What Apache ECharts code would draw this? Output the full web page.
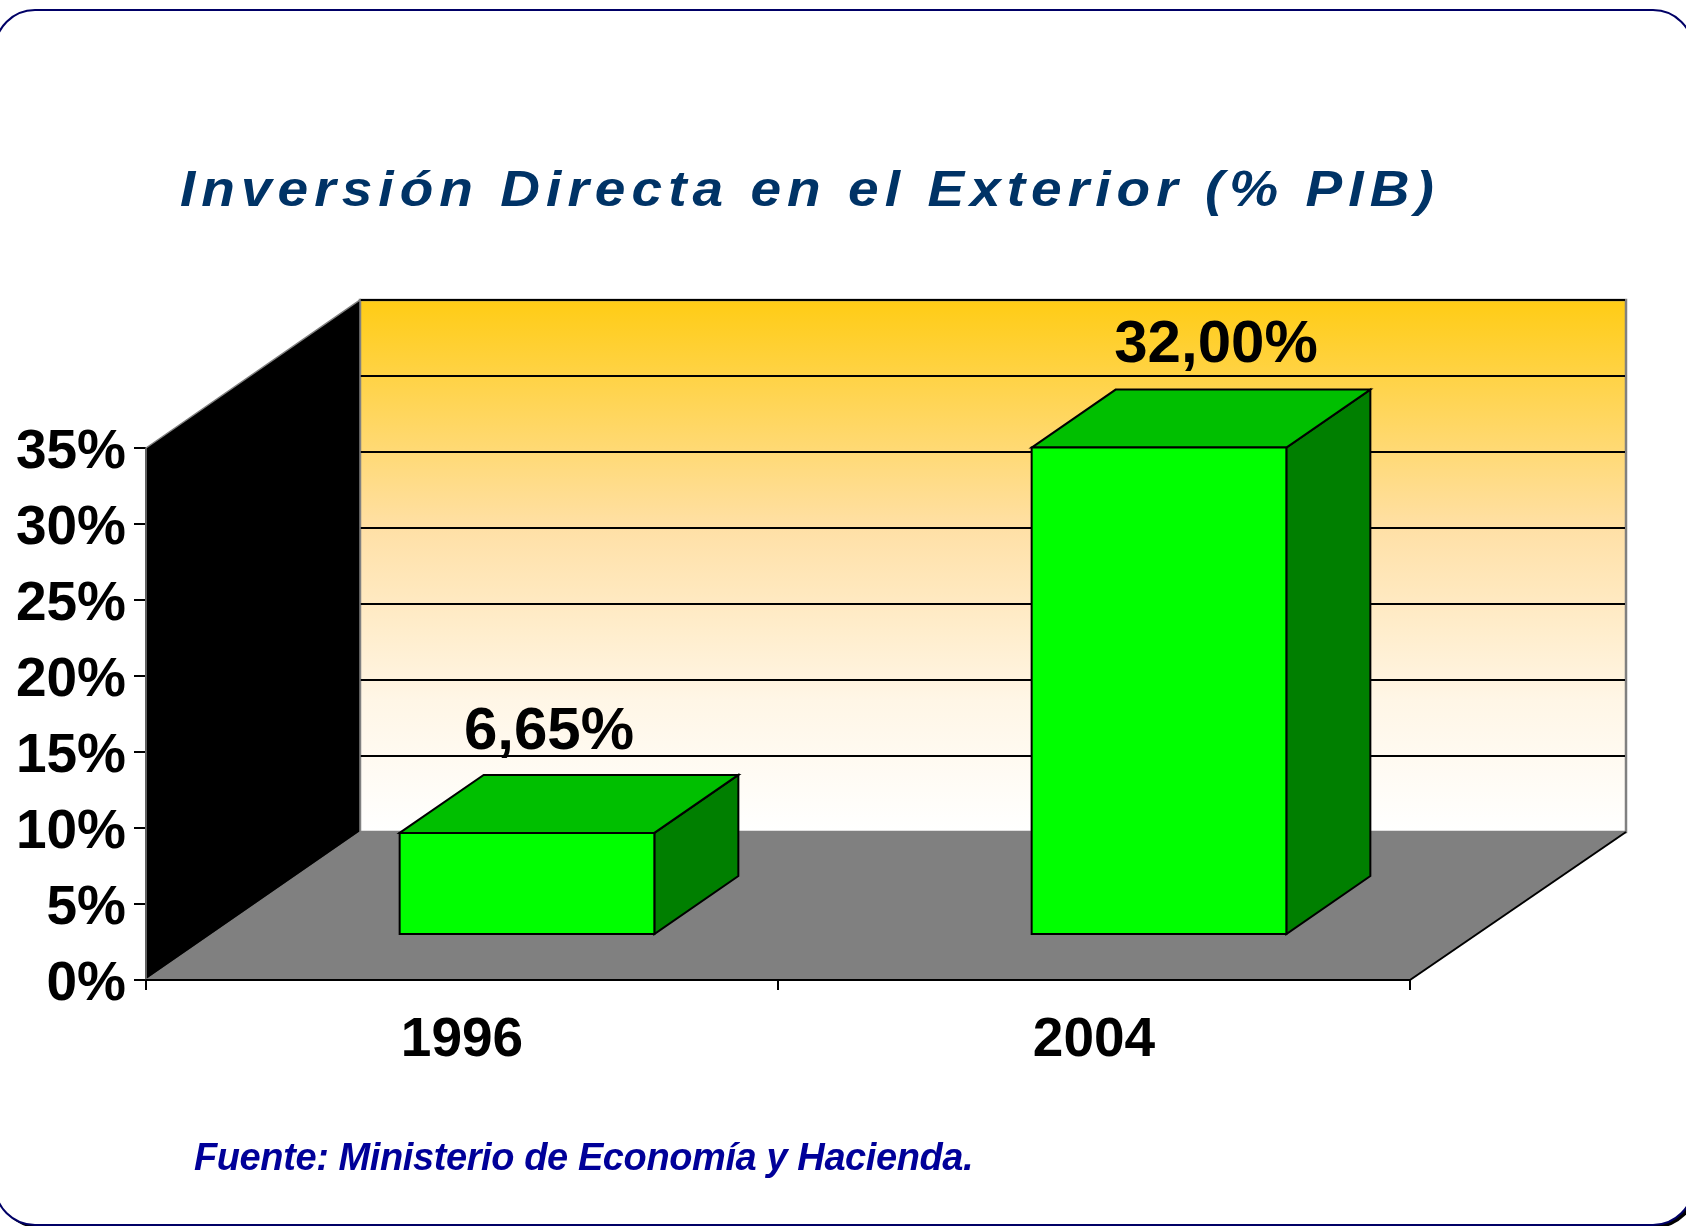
<!DOCTYPE html>
<html>
<head>
<meta charset="utf-8">
<title>Inversión Directa en el Exterior</title>
<script src="https://cdn.jsdelivr.net/npm/echarts@6/dist/echarts.min.js"></script>
<style>
    html, body { margin: 0; padding: 0; background: #fff; overflow: hidden; }
    #chart { position: absolute; left: 0; top: 0; width: 1686px; height: 1226px; }
    .caption { position: absolute; white-space: nowrap; font-family: "Liberation Sans", Arial, sans-serif; font-style: italic; font-weight: bold; }
    #title { left: 180px; top: 160px; font-size: 50px; line-height: 58px; letter-spacing: 5.5px; color: #003366; transform: scaleX(1.1); transform-origin: left center; }
    #source { left: 194px; top: 1134px; font-size: 38px; line-height: 46px; letter-spacing: -0.4px; color: #000099; }
</style>
</head>
<body>
<div id="chart"></div>
<div id="title" class="caption">Inversión Directa en el Exterior (% PIB)</div>
<div id="source" class="caption">Fuente: Ministerio de Economía y Hacienda.</div>
<script>
    const categories = ['1996', '2004'];
    const inversion = [6.65, 32];
    const valueLabels = ['6,65%', '32,00%'];
    const yTicks = [0, 5, 10, 15, 20, 25, 30, 35];

    // profundidad del efecto 3D, en px
    const DEPTH_X = 216;
    const DEPTH_Y = 148;
    const WALL_INSET = 2;      // la pared del fondo empieza un poco antes por la izquierda
    const BAR_SHIFT_X = 65;    // donde empieza la barra dentro del suelo
    const BAR_SHIFT_Y = 46;
    const BAR_DX = 84;
    const BAR_DY = 58;
    const BAR_WIDTH = 0.403;
    const LABEL_NUDGE = [[-20, -12], [15, -14]];

    const FONT = '"Liberation Sans", Arial, sans-serif';

    function poly(points, style, z2) {
        return { type: 'polygon', shape: { points: points }, style: style, z2: z2 || 0 };
    }

    function renderWalls(params, api) {
        const cs = params.coordSys;
        const left = cs.x, right = cs.x + cs.width, top = cs.y, bottom = cs.y + cs.height;
        const wallLeft = left + DEPTH_X - WALL_INSET;
        const children = [];

        children.push(poly(
            [[wallLeft, top - DEPTH_Y], [right + DEPTH_X, top - DEPTH_Y], [right + DEPTH_X, bottom - DEPTH_Y], [wallLeft, bottom - DEPTH_Y]],
            {
                fill: new echarts.graphic.LinearGradient(0, 0, 0, 1, [
                    { offset: 0, color: '#FFCC14' },
                    { offset: 0.43, color: '#FFE0A6' },
                    { offset: 0.75, color: '#FFF6E6' },
                    { offset: 1, color: '#FFFFFF' }
                ]),
                stroke: '#808080',
                lineWidth: 2.5
            }
        ));

        yTicks.forEach(function (t) {
            if (t === 0) return;
            const y = api.coord([0, t])[1] - DEPTH_Y;
            children.push({
                type: 'line',
                shape: { x1: wallLeft, y1: y, x2: right + DEPTH_X - 1, y2: y },
                style: { stroke: '#000', lineWidth: 2 },
                z2: 1
            });
        });

        children.push(poly(
            [[left, top], [wallLeft, top - DEPTH_Y], [wallLeft, bottom - DEPTH_Y], [left, bottom]],
            { fill: '#000', stroke: '#808080', lineWidth: 1.5 },
            2
        ));
        children.push(poly(
            [[left, bottom], [wallLeft, bottom - DEPTH_Y], [right + DEPTH_X, bottom - DEPTH_Y], [right, bottom]],
            { fill: '#808080' },
            3
        ));
        children.push({
            type: 'line',
            shape: { x1: right, y1: bottom, x2: right + DEPTH_X, y2: bottom - DEPTH_Y },
            style: { stroke: '#000', lineWidth: 2 },
            z2: 4
        });
        return { type: 'group', children: children };
    }

    function renderBar(params, api) {
        const idx = api.value(0);
        const val = api.value(1);
        const base = api.coord([idx, 0]);
        const head = api.coord([idx, val]);
        const w = api.size([1, 0])[0] * BAR_WIDTH;
        const x0 = base[0] - w / 2 + BAR_SHIFT_X;
        const x1 = x0 + w;
        const yBottom = base[1] - BAR_SHIFT_Y;
        const yTop = head[1] - BAR_SHIFT_Y;
        const dx = BAR_DX;
        const dy = BAR_DY;
        const edge = { stroke: '#000', lineWidth: 2, lineJoin: 'miter' };
        const nudge = LABEL_NUDGE[params.dataIndex];
        return {
            type: 'group',
            children: [
                poly([[x1, yTop], [x1 + dx, yTop - dy], [x1 + dx, yBottom - dy], [x1, yBottom]], Object.assign({ fill: '#007F00' }, edge)),
                poly([[x0, yTop], [x0 + dx, yTop - dy], [x1 + dx, yTop - dy], [x1, yTop]], Object.assign({ fill: '#00BF00' }, edge)),
                poly([[x0, yTop], [x1, yTop], [x1, yBottom], [x0, yBottom]], Object.assign({ fill: '#00FF00' }, edge)),
                {
                    type: 'text',
                    style: {
                        x: (x0 + x1 + dx) / 2 + nudge[0],
                        y: yTop - dy + nudge[1],
                        text: valueLabels[params.dataIndex],
                        align: 'center',
                        verticalAlign: 'bottom',
                        fill: '#000',
                        font: 'bold 60px ' + FONT
                    },
                    z2: 5
                }
            ]
        };
    }

    const chart = echarts.init(document.getElementById('chart'), null, { renderer: 'canvas' });

    chart.setOption({
        animation: false,
        backgroundColor: '#fff',
        graphic: [
            { type: 'rect', z: -2, shape: { x: -2, y: 13, width: 1698, height: 1215, r: 40 }, style: { fill: '#000' }, silent: true },
            { type: 'rect', z: -1, shape: { x: -5, y: 10, width: 1698, height: 1215, r: 40 }, style: { fill: '#fff', stroke: '#000066', lineWidth: 2 }, silent: true }
        ],
        grid: { left: 146, top: 448, width: 1264, height: 532, containLabel: false },
        xAxis: {
            type: 'category',
            data: categories,
            axisLine: { lineStyle: { color: '#000', width: 2 } },
            axisTick: { show: true, length: 10, alignWithLabel: false, lineStyle: { color: '#000', width: 2 } },
            axisLabel: { color: '#000', fontFamily: FONT, fontWeight: 'bold', fontSize: 55, margin: 33 },
            z: 5
        },
        yAxis: {
            type: 'value',
            min: 0,
            max: 35,
            interval: 5,
            axisLine: { show: true, lineStyle: { color: '#000', width: 2 } },
            axisTick: { show: true, length: 12, lineStyle: { color: '#000', width: 2 } },
            axisLabel: {
                color: '#000',
                fontFamily: FONT,
                fontWeight: 'bold',
                fontSize: 55,
                margin: 20,
                verticalAlign: 'top',
                lineHeight: 9,
                formatter: function (v) { return v + '%'; }
            },
            splitLine: { show: false }
        },
        series: [
            {
                type: 'custom',
                name: 'paredes',
                coordinateSystem: 'cartesian2d',
                clip: false,
                silent: true,
                z: 1,
                data: [[0, 0]],
                renderItem: renderWalls
            },
            {
                type: 'custom',
                name: 'Inversión',
                coordinateSystem: 'cartesian2d',
                clip: false,
                silent: true,
                z: 2,
                encode: { x: 0, y: 1 },
                data: inversion.map(function (v, i) { return [i, v]; }),
                renderItem: renderBar
            }
        ]
    });
</script>
</body>
</html>
